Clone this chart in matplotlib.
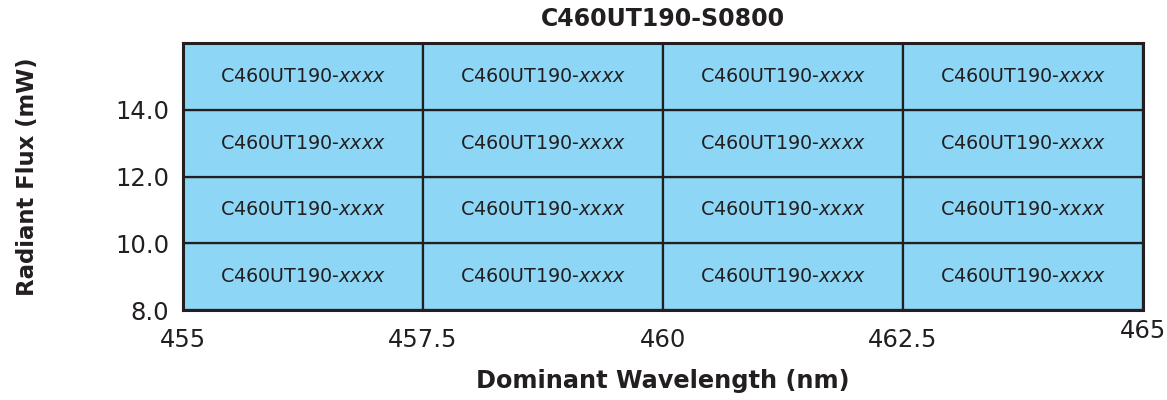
import numpy as np
import matplotlib.pyplot as plt

# bin edges of the chart
wl_edges = [455, 457.5, 460, 462.5, 465]
flux_edges = [8.0, 10.0, 12.0, 14.0, 16.0]
x_ticks = [455, 457.5, 460, 462.5, 465]
x_ticklabels = ['455', '457.5', '460', '462.5', '465']
y_ticks = [8.0, 10.0, 12.0, 14.0]
y_ticklabels = ['8.0', '10.0', '12.0', '14.0']
cell_prefix = 'C460UT190-'
cell_suffix = 'xxxx'
title = 'C460UT190-S0800'

fill = '#8dd6f5'
edge = '#231f20'

fig = plt.figure(figsize=(11.67, 4.0), dpi=100)
ax = fig.add_axes([0.1568, 0.225, 0.9794 - 0.1568, 0.8925 - 0.225])

for i in range(len(wl_edges) - 1):
    for j in range(len(flux_edges) - 1):
        x0, x1 = wl_edges[i], wl_edges[i + 1]
        y0, y1 = flux_edges[j], flux_edges[j + 1]
        ax.add_patch(plt.Rectangle((x0, y0), x1 - x0, y1 - y0,
                                   facecolor=fill, edgecolor=edge, lw=1.6))
        ax.text((x0 + x1) / 2, (y0 + y1) / 2,
                cell_prefix + r'$\mathit{' + cell_suffix + '}$',
                ha='center', va='center', fontsize=13.8, color=edge)

ax.set_xlim(wl_edges[0], wl_edges[-1])
ax.set_ylim(flux_edges[0], flux_edges[-1])
for s in ax.spines.values():
    s.set_linewidth(2.2)
    s.set_color(edge)

ax.set_xticks(x_ticks)
ax.set_xticklabels(x_ticklabels)
ax.set_yticks(y_ticks)
ax.set_yticklabels(y_ticklabels)
ax.tick_params(axis='both', length=0, labelsize=17.5, colors=edge)
ax.tick_params(axis='x', pad=13)
ax.tick_params(axis='y', pad=10)
# last x label sits a bit higher in the original
ax.get_xticklabels()[-1].set_y(0.035)

ax.set_title(title, fontsize=17, fontweight='bold', color=edge, pad=12)
ax.set_xlabel('Dominant Wavelength (nm)', fontsize=17.3, fontweight='bold',
              color=edge, labelpad=12)
ax.set_ylabel('Radiant Flux (mW)', fontsize=16.4, fontweight='bold',
              color=edge, labelpad=0)
ax.yaxis.set_label_coords(-0.15, 0.5)

plt.savefig('out.png', dpi=100)
